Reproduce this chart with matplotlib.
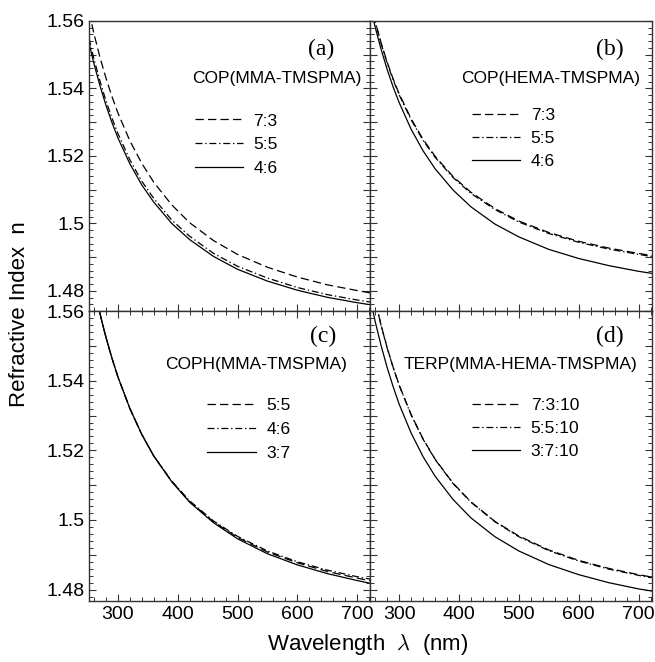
import matplotlib
matplotlib.use("Agg")
import matplotlib.pyplot as plt
from matplotlib.ticker import MultipleLocator, FixedLocator, FixedFormatter

plt.rcParams['font.family'] = ['Liberation Sans', 'DejaVu Sans']
plt.rcParams['mathtext.fontset'] = 'cm'
plt.rcParams['lines.scale_dashes'] = False

# wavelength grid (nm) shared by every curve
wavelength = [252, 260, 270, 280, 290, 300, 320, 340, 360, 390, 420, 460, 500, 550, 600, 650, 700, 722]

# (a) COP(MMA-TMSPMA)
a_73 = [1.5626, 1.5563, 1.5493, 1.5432, 1.5377, 1.5328, 1.5245, 1.5178, 1.5122, 1.5055, 1.5002, 1.4949, 1.4908, 1.4870, 1.4841, 1.4818, 1.4801, 1.4794]
a_55 = [1.5548, 1.5488, 1.5423, 1.5364, 1.5313, 1.5267, 1.5189, 1.5125, 1.5074, 1.5010, 1.4962, 1.4911, 1.4873, 1.4838, 1.4810, 1.4789, 1.4773, 1.4767]
a_46 = [1.5533, 1.5474, 1.5409, 1.5351, 1.5300, 1.5254, 1.5177, 1.5114, 1.5063, 1.5000, 1.4952, 1.4902, 1.4864, 1.4829, 1.4802, 1.4781, 1.4765, 1.4759]

# (b) COP(HEMA-TMSPMA)
b_73 = [1.5655, 1.5598, 1.5534, 1.5478, 1.5428, 1.5384, 1.5310, 1.5249, 1.5199, 1.5139, 1.5092, 1.5044, 1.5007, 1.4973, 1.4947, 1.4927, 1.4911, 1.4905]
b_55 = [1.5655, 1.5597, 1.5532, 1.5475, 1.5425, 1.5381, 1.5307, 1.5246, 1.5196, 1.5136, 1.5089, 1.5041, 1.5004, 1.4970, 1.4944, 1.4924, 1.4908, 1.4902]
b_46 = [1.5641, 1.5581, 1.5515, 1.5456, 1.5404, 1.5358, 1.5279, 1.5215, 1.5162, 1.5099, 1.5049, 1.4998, 1.4960, 1.4923, 1.4896, 1.4875, 1.4858, 1.4852]

# (c) COPH(MMA-TMSPMA)
c_55 = [1.5741, 1.5671, 1.5594, 1.5526, 1.5466, 1.5412, 1.5321, 1.5246, 1.5184, 1.5111, 1.5053, 1.4995, 1.4950, 1.4908, 1.4877, 1.4852, 1.4833, 1.4825]
c_46 = [1.5741, 1.5671, 1.5594, 1.5526, 1.5466, 1.5412, 1.5321, 1.5246, 1.5184, 1.5112, 1.5055, 1.4997, 1.4953, 1.4911, 1.4880, 1.4856, 1.4837, 1.4830]
c_37 = [1.5741, 1.5671, 1.5594, 1.5526, 1.5466, 1.5412, 1.5321, 1.5246, 1.5184, 1.5110, 1.5051, 1.4992, 1.4946, 1.4903, 1.4871, 1.4846, 1.4826, 1.4818]

# (d) TERP(MMA-HEMA-TMSPMA)
d_7310 = [1.5696, 1.5631, 1.5559, 1.5495, 1.5439, 1.5388, 1.5303, 1.5233, 1.5175, 1.5106, 1.5052, 1.4996, 1.4954, 1.4914, 1.4884, 1.4861, 1.4843, 1.4836]
d_5510 = [1.5695, 1.5630, 1.5558, 1.5494, 1.5438, 1.5387, 1.5302, 1.5232, 1.5174, 1.5105, 1.5051, 1.4995, 1.4952, 1.4912, 1.4882, 1.4859, 1.4841, 1.4834]
d_3710 = [1.5634, 1.5570, 1.5500, 1.5438, 1.5383, 1.5333, 1.5250, 1.5182, 1.5126, 1.5059, 1.5006, 1.4952, 1.4911, 1.4872, 1.4843, 1.4820, 1.4802, 1.4796]

panels = [
    ("(a)", "COP(MMA-TMSPMA)", [a_73, a_55, a_46], ["7:3", "5:5", "4:6"]),
    ("(b)", "COP(HEMA-TMSPMA)", [b_73, b_55, b_46], ["7:3", "5:5", "4:6"]),
    ("(c)", "COPH(MMA-TMSPMA)", [c_55, c_46, c_37], ["5:5", "4:6", "3:7"]),
    ("(d)", "TERP(MMA-HEMA-TMSPMA)", [d_7310, d_5510, d_3710], ["7:3:10", "5:5:10", "3:7:10"]),
]
styles = [(0, (6, 3)), (0, (5, 2, 1, 2)), '-']

# text / legend positions in axes fractions
tag_pos = [(0.87, 0.90), (0.90, 0.90), (0.88, 0.91), (0.90, 0.91)]
sub_pos = [(0.968, 0.80), (0.957, 0.80), (0.918, 0.815), (0.95, 0.815)]
leg_pos = [(0.375, 0.68), (0.36, 0.70), (0.42, 0.70), (0.36, 0.70)]
leg_gap = [0.5, 0.45, 0.5, 0.45]

fig = plt.figure(figsize=(6.55, 6.62), dpi=100)
gs = fig.add_gridspec(2, 2, left=0.136, right=0.995, top=0.969, bottom=0.092,
                      wspace=0, hspace=0)

yticks = [1.48, 1.49, 1.50, 1.51, 1.52, 1.53, 1.54, 1.55, 1.56]
ytext = ["1.48", "", "1.5", "", "1.52", "", "1.54", "", "1.56"]

for i, (tag, title, series, names) in enumerate(panels):
    row, col = divmod(i, 2)
    ax = fig.add_subplot(gs[row, col])
    for n, ls, name in zip(series, styles, names):
        ax.plot(wavelength, n, color='black', lw=0.9, linestyle=ls, label=name)

    ax.set_xlim(252, 722)
    if row == 0:
        ax.set_ylim(1.4741, 1.5601)
    else:
        ax.set_ylim(1.4767, 1.5601)

    ax.xaxis.set_major_locator(FixedLocator([300, 400, 500, 600, 700]))
    ax.xaxis.set_minor_locator(MultipleLocator(20))
    ax.yaxis.set_major_locator(FixedLocator(yticks))
    ax.yaxis.set_minor_locator(MultipleLocator(0.002))
    ax.tick_params(which='both', direction='in', left=True, right=True,
                   bottom=True, top=(row == 1), labelsize=14, color='#333333')
    ax.tick_params(which='major', length=5, width=0.8)
    ax.tick_params(which='minor', length=3, width=0.7)

    if col == 0:
        ax.yaxis.set_major_formatter(FixedFormatter(ytext))
    else:
        ax.set_yticklabels([])
    if row == 0:
        ax.set_xticklabels([])

    for s in ax.spines.values():
        s.set_linewidth(1.0)
        s.set_color('#333333')

    ax.text(*tag_pos[i], tag, transform=ax.transAxes, ha='right', va='center',
            family='Liberation Serif', fontsize=17)
    ax.text(*sub_pos[i], title, transform=ax.transAxes, ha='right', va='center',
            fontsize=12.5)
    ax.legend(loc='upper left', bbox_to_anchor=leg_pos[i], frameon=False,
              fontsize=12.5, handlelength=2.8, handletextpad=0.6,
              labelspacing=leg_gap[i], borderpad=0, borderaxespad=0)

fig.text(0.562, 0.026, "Wavelength  $\\lambda$  (nm)", ha='center', va='center', fontsize=16)
fig.text(0.03, 0.525, "Refractive Index  n", ha='center', va='center',
         rotation=90, fontsize=16)

fig.savefig("out.png", dpi=100)
